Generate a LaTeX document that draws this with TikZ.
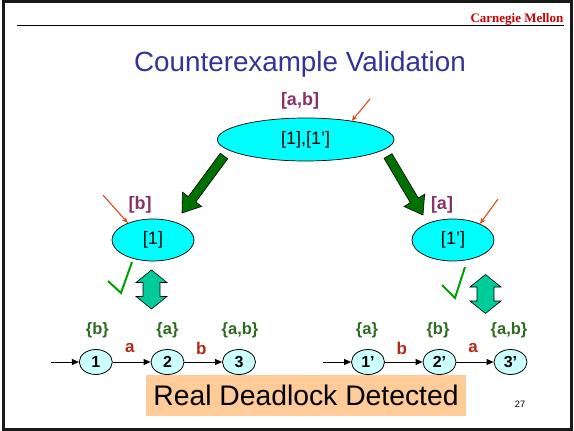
\documentclass[tikz,border=0pt]{standalone}
\usepackage{fontspec}
\setmainfont{Liberation Sans}
\newfontfamily\brandserif{Liberation Serif}
\usetikzlibrary{shapes.geometric,arrows.meta,calc}

\definecolor{titleblue}{HTML}{333399}
\definecolor{brandred}{HTML}{CC0000}
\definecolor{tracemaroon}{HTML}{883366}
\definecolor{pointerred}{HTML}{E04A14}
\definecolor{propgreen}{HTML}{2D6B1E}
\definecolor{actred}{HTML}{B42A18}
\definecolor{ellcyan}{HTML}{00FFFF}
\definecolor{statecyan}{HTML}{CCFFFF}
\definecolor{bannerorange}{HTML}{FFCC99}
\definecolor{dblteal}{HTML}{00CC99}
\definecolor{darkarrow}{HTML}{007000}
\definecolor{checkgreen}{HTML}{00A000}

\tikzset{
  absell/.style={ellipse, draw=black, fill=ellcyan, inner sep=0pt, line width=0.7pt,
                 font=\fontsize{18}{20}\selectfont},
  tracelab/.style={text=tracemaroon, font=\fontsize{18}{20}\selectfont\bfseries, inner sep=0pt},
  pointer/.style={draw=pointerred, line width=1.1pt, -{Stealth[length=6pt,width=5pt]}},
  bigarrow/.style={draw=black, fill=darkarrow, line width=0.6pt},
  dblarrow/.style={draw=black, fill=dblteal, line width=0.6pt},
  tick/.style={draw=checkgreen, line width=2pt},
  state/.style={ellipse, draw=black, fill=statecyan, line width=0.8pt,
                minimum width=33pt, minimum height=25pt, inner sep=0pt,
                font=\fontsize{16}{18}\selectfont\bfseries},
  proplab/.style={text=propgreen, font=\fontsize{16.5}{18}\selectfont\bfseries, inner sep=0pt},
  actlab/.style={text=actred, font=\fontsize{17}{18}\selectfont\bfseries, inner sep=0pt},
  trans/.style={draw=black, line width=0.9pt, -{Triangle[length=7pt,width=6pt]}},
}

% thick block arrow from #1 (tail) to #2 (tip)
\newcommand\bigblockarrow[2]{%
  \coordinate (ba-h) at ($(#2)!17pt!(#1)$);
  \draw[bigarrow] ($(#1)!4.6pt!90:(#2)$) -- ($(ba-h)!4.6pt!90:(#2)$)
    -- ($(ba-h)!12pt!90:(#2)$) -- (#2) -- ($(ba-h)!12pt!-90:(#2)$)
    -- ($(ba-h)!4.6pt!-90:(#2)$) -- ($(#1)!4.6pt!-90:(#2)$) -- cycle;}

% vertical double-headed block arrow centred on #1
\newcommand\tealdbl[1]{%
  \draw[dblarrow] ($(#1)+(0,-19.5)$) -- ++(15.5,12.5) -- ++(-7,0) -- ++(0,14)
    -- ++(7,0) -- ++(-15.5,12.5) -- ++(-15.5,-12.5) -- ++(7,0) -- ++(0,-14)
    -- ++(-7,0) -- cycle;}

\begin{document}
\begin{tikzpicture}[x=1pt,y=-1pt]
  \useasboundingbox (0,0) rectangle (574,431);
  \fill[white] (0,0) rectangle (574,431);

  % slide frame and header rule
  \draw[line width=3pt, black!90] (3,1.5) rectangle (571.5,429.5);
  \coordinate (ruleL) at (16.5,25);
  \coordinate (ruleR) at (564,25);
  \draw[line width=0.8pt] (ruleL) -- (ruleR);
  \node[anchor=base east, inner sep=0pt, text=brandred,
        font=\brandserif\fontsize{13}{14}\selectfont\bfseries] (brand) at (563.5,22.5) {Carnegie Mellon};

  % title
  \node[anchor=base, inner sep=0pt, text=titleblue, font=\fontsize{27.8}{30}\selectfont] (title)
    at (300,71) {Counterexample Validation};

  % abstract counterexample
  \node[absell, minimum width=176.6pt, minimum height=43pt] (top) at (305.7,139.5) {[1],[1’]};
  \node[tracelab] (labAB) at (300,101) {[a,b]};
  \coordinate (ptop) at (370,99);
  \draw[pointer] (ptop) -- (top.22);

  \node[absell, minimum width=82pt, minimum height=42pt] (lft) at (153,240) {[1]};
  \node[tracelab] (labB) at (140,205) {[b]};
  \coordinate (plft) at (103,195);
  \draw[pointer] (plft) -- (lft.146);

  \node[absell, minimum width=82pt, minimum height=42pt] (rgt) at (453,240) {[1’]};
  \node[tracelab] (labA) at (442,205) {[a]};
  \coordinate (prgt) at (498,199);
  \draw[pointer] (prgt) -- (rgt.31);

  % projection arrows
  \coordinate (gaL) at (224,156);
  \coordinate (gbL) at (182,213);
  \coordinate (gaR) at (388,156);
  \coordinate (gbR) at (423,215);
  \bigblockarrow{gaL}{gbL}
  \bigblockarrow{gaR}{gbR}

  % check marks and correspondence arrows
  \draw[tick] (108,281) -- (121,293) -- (132,262);
  \draw[tick] (442,285) -- (455,298) -- (465,267);
  \coordinate (dblL) at (151.5,289.5);
  \coordinate (dblR) at (485.5,294);
  \tealdbl{dblL}
  \tealdbl{dblR}

  % concrete trace of the first component
  \node[state] (s1) at (95.8,362) {1};
  \node[state] (s2) at (167.5,362) {2};
  \node[state] (s3) at (239,362) {3};
  \coordinate (s0) at (51,362);
  \draw[trans] (s0) -- (s1);
  \draw[trans] (s1) -- (s2) node[actlab, pos=0.45, yshift=14pt] {a};
  \draw[trans] (s2) -- (s3) node[actlab, pos=0.45, yshift=14pt] {b};
  \node[proplab] (ls1) at ($(s1)+(1.5,-32)$) {\{b\}};
  \node[proplab] (ls2) at ($(s2)+(0,-32)$) {\{a\}};
  \node[proplab] (ls3) at ($(s3)+(1,-32)$) {\{a,b\}};

  % concrete trace of the second component
  \node[state] (t1) at (368,362) {1’};
  \node[state] (t2) at (439.5,362) {2’};
  \node[state] (t3) at (510.5,362) {3’};
  \coordinate (t0) at (323,362);
  \draw[trans] (t0) -- (t1);
  \draw[trans] (t1) -- (t2) node[actlab, pos=0.45, yshift=14pt] {b};
  \draw[trans] (t2) -- (t3) node[actlab, pos=0.45, yshift=14pt] {a};
  \node[proplab] (lt1) at ($(t1)+(-1,-32)$) {\{a\}};
  \node[proplab] (lt2) at ($(t2)+(-1.5,-32)$) {\{b\}};
  \node[proplab] (lt3) at ($(t3)+(-1.5,-32)$) {\{a,b\}};

  % verdict
  \node[fill=bannerorange, minimum width=320pt, minimum height=41pt, inner sep=0pt,
        font=\fontsize{28.3}{30}\selectfont] (banner) at (306,395.5) {Real Deadlock Detected};
  \node[font=\fontsize{9.3}{10}\selectfont, inner sep=0pt] (pageno) at (520,404) {27};
\end{tikzpicture}
\end{document}
